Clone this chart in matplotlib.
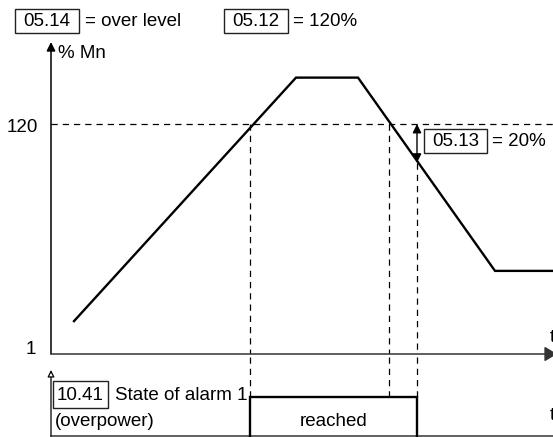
import matplotlib
matplotlib.use("Agg")
import matplotlib.pyplot as plt
from matplotlib.patches import Rectangle
from matplotlib.transforms import blended_transform_factory

plt.rcParams['font.family'] = ['Liberation Sans', 'DejaVu Sans']
FS = 13.5

# Torque profile (% Mn) over time
t_curve = [2.3, 24.5, 30.7, 44.4, 50.5]
mn_curve = [18, 144, 144, 44, 44]

# Over-level threshold and hysteresis
level = 120          # 05.12
hysteresis = 20      # 05.13
y_labels = [1, 120]

# Alarm switching instants
t_alarm_on = 19.9
t_cross_down = 33.8
t_alarm_off = 36.6
alarm_t = [t_alarm_on, t_alarm_on, t_alarm_off, t_alarm_off]
alarm_state = [0, 1, 1, 0]

W, H = 553, 437
fig = plt.figure(figsize=(W / 100, H / 100), dpi=100)

# pixel-space layer for labels and boxes
ov = fig.add_axes([0, 0, 1, 1])
ov.set_xlim(0, W)
ov.set_ylim(H, 0)
ov.axis('off')

x0_px, xaxis_px, top_px = 51, 354, 42
px_per_t = 10.0
px_per_pct = 230 / 119.0
t_max = (W - x0_px) / px_per_t

ax = fig.add_axes([x0_px / W, (H - xaxis_px) / H, (W - x0_px) / W, (xaxis_px - top_px) / H])
ax.patch.set_alpha(0)
ax.set_xlim(0, t_max)
ax.set_ylim(1, 1 + (xaxis_px - top_px) / px_per_pct)
for s in ax.spines.values():
    s.set_visible(False)
ax.set_xticks([])
ax.set_yticks([])

# axes with arrows
ax.annotate('', xy=(0, 1), xytext=(0, 0), xycoords='axes fraction',
            arrowprops=dict(arrowstyle='-|>', color='black', lw=1.1,
                            mutation_scale=13, shrinkA=0, shrinkB=0))
ax.annotate('', xy=(1.008, 0), xytext=(0, 0), xycoords='axes fraction',
            arrowprops=dict(arrowstyle='-|>,head_length=0.5,head_width=0.3', color='#333333', lw=1.1,
                            mutation_scale=15, shrinkA=0, shrinkB=0),
            annotation_clip=False)

dash = (0, (5, 4))
ax.axhline(level, color='black', lw=0.9, ls=dash)
ax.plot(t_curve, mn_curve, color='black', lw=1.7, solid_joinstyle='miter', clip_on=False)

# vertical dashed guides in the main panel
ax.plot([t_alarm_on, t_alarm_on], [level, 1], color='black', lw=0.9, ls=dash)
ax.plot([t_cross_down, t_cross_down], [level, 1], color='black', lw=0.9, ls=dash)
ax.plot([t_alarm_off, t_alarm_off], [level - hysteresis, 1], color='black', lw=0.9, ls=dash)

# hysteresis double arrow
ax.annotate('', xy=(t_alarm_off, level - hysteresis), xytext=(t_alarm_off, level),
            arrowprops=dict(arrowstyle='<|-|>', color='black', lw=1.0,
                            mutation_scale=13, shrinkA=0, shrinkB=0))

trans = blended_transform_factory(ax.transAxes, ax.transData)
ax.text(-13 / (W - x0_px), y_labels[1] - 2, str(y_labels[1]), transform=trans,
        ha='right', va='center', fontsize=FS)
ax.text(-15 / (W - x0_px), y_labels[0] + 2.5, str(y_labels[0]), transform=trans,
        ha='right', va='center', fontsize=FS)

# lower panel: alarm state
lo_bottom_px = 436
px_per_state = 39.0
axl = fig.add_axes([x0_px / W, (H - lo_bottom_px) / H, (W - x0_px) / W, (lo_bottom_px - xaxis_px) / H])
axl.patch.set_alpha(0)
axl.set_xlim(0, t_max)
axl.set_ylim(0, (lo_bottom_px - xaxis_px) / px_per_state)
for s in axl.spines.values():
    s.set_visible(False)
axl.set_xticks([])
axl.set_yticks([])
axl.axhline(0, color='#444444', lw=1.2, clip_on=False)
axl.annotate('', xy=(0, (lo_bottom_px - 370) / px_per_state), xytext=(0, 0),
             arrowprops=dict(arrowstyle='-|>', fc='white', ec='black', lw=0.9,
                             mutation_scale=10, shrinkA=0, shrinkB=0),
             annotation_clip=False)
axl.plot(alarm_t, alarm_state, color='black', lw=1.7, solid_joinstyle='miter', clip_on=False)
for tv in (t_alarm_on, t_cross_down, t_alarm_off):
    axl.plot([tv, tv], [1, axl.get_ylim()[1]], color='black', lw=0.9, ls=dash)
axl.text((t_alarm_on + t_alarm_off) / 2, 0.38, 'reached', ha='center', va='center', fontsize=FS)


def boxed(x, y, w, h, txt):
    ov.add_patch(Rectangle((x, y), w, h, fill=False, ec='#222222', lw=1.0))
    ov.text(x + w / 2, y + h / 2 + 1, txt, ha='center', va='center', fontsize=FS)


boxed(15, 9, 64, 24, '05.14')
ov.text(85, 22, '= over level', ha='left', va='center', fontsize=FS)
boxed(224, 9, 64, 24, '05.12')
ov.text(293, 22, '= 120%', ha='left', va='center', fontsize=FS)
ov.text(58, 53, '% Mn', ha='left', va='center', fontsize=FS)
boxed(424, 129, 63, 24, '05.13')
ov.text(492, 142, '= 20%', ha='left', va='center', fontsize=FS)
boxed(53, 381, 55, 27, '10.41')
ov.text(115, 395, 'State of alarm 1', ha='left', va='center', fontsize=FS)
ov.text(55, 421, '(overpower)', ha='left', va='center', fontsize=FS)
ov.text(550, 338, 't', ha='left', va='center', fontsize=FS)
ov.text(550, 416, 't', ha='left', va='center', fontsize=FS)

fig.savefig('out.png', dpi=100)
